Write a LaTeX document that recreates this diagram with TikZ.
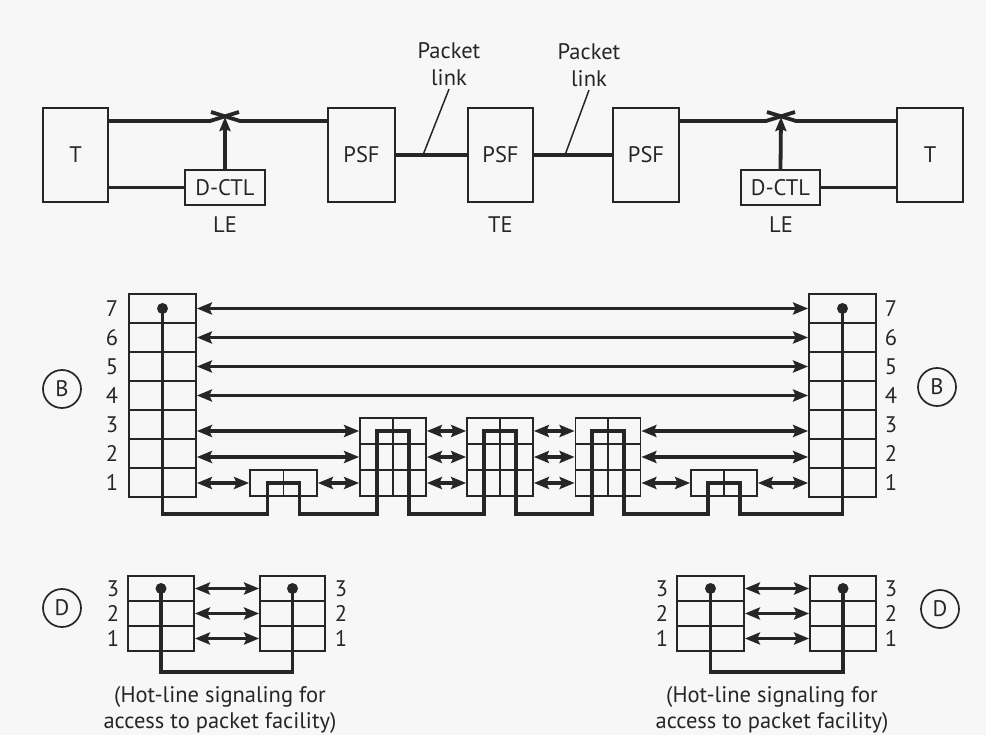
\documentclass[tikz,border=0pt]{standalone}
\usepackage{fontspec}
\setmainfont{PT Sans}
\usetikzlibrary{arrows.meta}
\colorlet{ink}{black!85}

\begin{document}
\begin{tikzpicture}[x=1pt,y=-1pt,color=ink,
    font=\fontsize{22.5}{26}\selectfont,
    >={Stealth[length=15pt,width=12pt,inset=2.5pt]},
    box/.style={draw,line width=2.1pt,inner sep=0pt},
    unit/.style={box,minimum width=66pt,minimum height=94pt},
    ctl/.style={box,minimum width=80pt,minimum height=35pt},
    cell/.style={draw,line width=1.8pt,inner sep=0pt,minimum width=67pt,minimum height=29pt},
    half/.style={cell,minimum width=66pt,minimum height=26pt,
      path picture={\draw[line width=1.8pt] (path picture bounding box.north) -- (path picture bounding box.south);}},
    dcell/.style={cell,minimum width=66pt,minimum height=25pt},
    wire/.style={line width=3.8pt},
    link/.style={line width=3.6pt,<->},
    lead/.style={line width=1.5pt},
    tag/.style={draw,circle,line width=1.7pt,minimum size=38pt,inner sep=0pt}]
    \path[use as bounding box,fill=black!3] (0,0) rectangle (986,735);

    % Hàng trên
    \node[unit,minimum width=65pt] (t1) at (75.5,155) {T};
    \node[unit,minimum width=67pt] (p1) at (361.5,155) {PSF};
    \node[unit,minimum width=65pt] (p2) at (500.5,155) {PSF};
    \node[unit] (p3) at (646,155) {PSF};
    \node[unit] (t2) at (930,155) {T};
    \node[ctl] (d1) at (225,187.5) {D-CTL};
    \node[ctl,minimum width=79pt] (d2) at (780.5,187.5) {D-CTL};
    \node (le1) at (225,225) {LE};
    \node (te) at (500.5,225) {TE};
    \node (le2) at (781,225) {LE};
    \coordinate (k1) at (225,121);
    \coordinate (k2) at (781,121);
    % Công tắc
    \draw[wire] (t1.east |- k1) -- ([xshift=-15pt]k1) -- ([xshift=14pt,yshift=9pt]k1);
    \draw[wire] ([xshift=-14pt,yshift=9pt]k1) -- ([xshift=15pt]k1) -- (p1.west |- k1);
    \draw[wire] (p3.east |- k2) -- ([xshift=-15pt]k2) -- ([xshift=14pt,yshift=9pt]k2);
    \draw[wire] ([xshift=-14pt,yshift=9pt]k2) -- ([xshift=15pt]k2) -- (t2.west |- k2);
    \draw[wire,-{Stealth[length=14pt,width=11pt,inset=2pt]}] (d1.north) -- ([yshift=4pt]k1);
    \draw[wire,-{Stealth[length=14pt,width=11pt,inset=2pt]}] (d2.north) -- ([yshift=4pt]k2);
    \draw[wire] (t1.east |- d1.west) -- (d1.west);
    \draw[wire] (d2.east) -- (t2.west |- d2.east);
    \draw[wire] (p1.east) -- (p2.west);
    \draw[wire] (p2.east) -- (p3.west);
    % Nhãn liên kết
    \node[align=center,font=\fontsize{22.5}{27}\selectfont] (pl1) at (449,64) {Packet\\link};
    \node[align=center,font=\fontsize{22.5}{27}\selectfont] (pl2) at (589,65) {Packet\\link};
    \coordinate (lk1) at (423,155);
    \coordinate (lk2) at (565,155);
    \draw[lead] (pl1.south) -- (lk1);
    \draw[lead] (pl2.south) -- (lk2);

    % Kênh B
    \foreach \r in {1,...,7}{
        \node[cell] (lb\r) at (162.5,{482.5-29*(\r-1)}) {};
        \node[cell] (rb\r) at (842.5,{482.5-29*(\r-1)}) {};
        \node (ln\r) at ([xshift=-16pt]lb\r.west) {\r};
        \node (rn\r) at ([xshift=14pt]rb\r.east) {\r};
    }
    \foreach \n/\cx/\w in {ta/393/66,tb/500/66,tc/608/65}
        \foreach \r in {1,2,3}
            \node[half,minimum width=\w pt] (\n\r) at (\cx,{483-26*(\r-1)}) {};
    \node[half,minimum width=67pt] (ua) at (283.5,483) {};
    \node[half] (ub) at (724,483) {};
    \node[tag] (bl) at (62,389) {B};
    \node[tag] (br) at (937,387) {B};

    \foreach \r in {4,...,7}
        \draw[link] (lb\r.east) -- (rb\r.west);
    \foreach \r in {2,3}{
        \draw[link] (lb\r.east |- ta\r.west) -- (ta\r.west);
        \draw[link] (ta\r.east) -- (tb\r.west);
        \draw[link] (tb\r.east) -- (tc\r.west);
        \draw[link] (tc\r.east) -- (rb\r.west |- tc\r.east);
    }
    \draw[link] (lb1.east |- ua.west) -- (ua.west);
    \draw[link] (ua.east) -- (ta1.west);
    \draw[link] (ta1.east) -- (tb1.west);
    \draw[link] (tb1.east) -- (tc1.west);
    \draw[link] (tc1.east) -- (ub.west);
    \draw[link] (ub.east) -- (rb1.west |- ub.east);

    % Đường báo hiệu
    \coordinate (bot) at (0,514);
    \draw[wire,line join=miter] (lb7.center) -- (lb7.center |- bot)
        -| ([xshift=-16pt]ua.center) -- ++(32,0) -- ++(0,31)
        -| ([xshift=-16pt]ta3.center) -- ++(32,0) -- ++(0,83)
        -| ([xshift=-16pt]tb3.center) -- ++(32,0) -- ++(0,83)
        -| ([xshift=-16pt]tc3.center) -- ++(32,0) -- ++(0,83)
        -| ([xshift=-16pt]ub.center) -- ++(32,0) -- ++(0,31)
        -| (rb7.center);
    \fill (lb7.center) circle (5.5pt);
    \fill (rb7.center) circle (5.5pt);

    % Kênh D
    \foreach \r in {1,2,3}{
        \node[dcell] (dl\r) at (161,{638.5-25*(\r-1)}) {};
        \node[dcell,minimum width=65pt] (dr\r) at (292.5,{638.5-25*(\r-1)}) {};
        \node[dcell,minimum width=67pt] (el\r) at (710.5,{638.5-25*(\r-1)}) {};
        \node[dcell] (er\r) at (843,{638.5-25*(\r-1)}) {};
        \node (dn\r) at ([xshift=-14pt]dl\r.west) {\r};
        \node (dm\r) at ([xshift=15pt]dr\r.east) {\r};
        \node (en\r) at ([xshift=-14pt]el\r.west) {\r};
        \node (em\r) at ([xshift=14pt]er\r.east) {\r};
        \draw[link] (dl\r.east) -- (dr\r.west);
        \draw[link] (el\r.east) -- (er\r.west);
    }
    \coordinate (dbot) at (0,672);
    \draw[wire,line join=miter] (dl3.center) -- (dl3.center |- dbot) -| (dr3.center);
    \draw[wire,line join=miter] (el3.center) -- (el3.center |- dbot) -| (er3.center);
    \foreach \p in {dl3,dr3,el3,er3}
        \fill (\p.center) circle (5.5pt);
    \node[tag] (dtl) at (62,608) {D};
    \node[tag] (dtr) at (940,609) {D};
    \node[align=center] (nl) at (220,709.5) {(Hot-line signaling for\\access to packet facility)};
    \node[align=center] (nr) at (772,709.5) {(Hot-line signaling for\\access to packet facility)};
\end{tikzpicture}
\end{document}
